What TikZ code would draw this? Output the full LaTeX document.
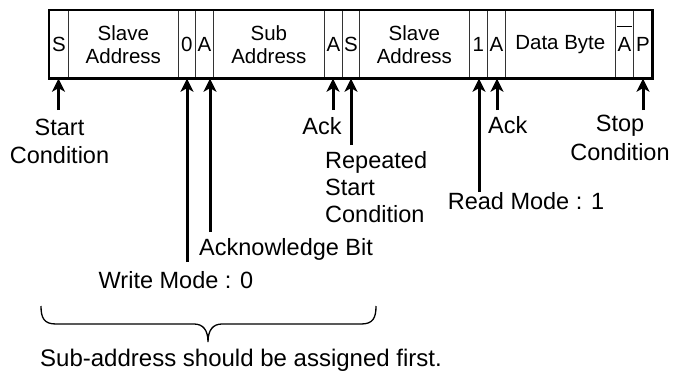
\documentclass[tikz,border=0pt]{standalone}
\usepackage{fontspec}
\setmainfont{Liberation Sans}
\usetikzlibrary{arrows.meta}
\begin{document}
\begin{tikzpicture}[x=1pt,y=-1pt,
  cell/.style={draw=black!80, line width=0.7pt, minimum height=68pt, inner sep=0pt,
    font=\fontsize{20.5}{23}\selectfont, align=center, anchor=north west},
  lbl/.style={font=\fontsize{23.5}{28}\selectfont, inner sep=0pt},
  pointer/.style={line width=3pt, -{Stealth[length=13pt,width=13pt,inset=3.5pt]}},
  frame/.style={line width=2.5pt},
  brace/.style={line width=1.3pt},
]
\useasboundingbox (0,0) rectangle (685,372);

% frame cells
\node[cell, minimum width=19pt]  (c1)  at (49,10)  {S};
\node[cell, minimum width=110pt] (c2)  at (68,10)  {Slave\\Address};
\node[cell, minimum width=17pt]  (c3)  at (178,10) {0};
\node[cell, minimum width=18pt]  (c4)  at (195,10) {A};
\node[cell, minimum width=111pt] (c5)  at (213,10) {Sub\\Address};
\node[cell, minimum width=18pt]  (c6)  at (324,10) {A};
\node[cell, minimum width=17pt]  (c7)  at (342,10) {S};
\node[cell, minimum width=110pt] (c8)  at (359,10) {Slave\\Address};
\node[cell, minimum width=18pt]  (c9)  at (469,10) {1};
\node[cell, minimum width=18pt]  (c10) at (487,10) {A};
\node[cell, minimum width=110pt] (c11) at (505,10) {Data Byte};
\node[cell, minimum width=18pt]  (c12) at (615,10) {A};
\node[cell, minimum width=19pt]  (c13) at (633,10) {P};
\draw[line width=0.7pt] ([xshift=1.5pt,yshift=-16pt]c12.north west) -- ([xshift=-2pt,yshift=-16pt]c12.north east);
\draw[frame] (c1.north west) rectangle (c13.south east);

% labels (base anchor of a multi-line node = baseline of its last line)
\node[lbl, anchor=base, align=center] (lstart) at (59.5,163.4) {Start\\Condition};
\node[lbl, anchor=base] (lack1) at (322,134.4) {Ack};
\node[lbl, anchor=base west, align=left, font=\fontsize{23.5}{27}\selectfont] (lrep) at (325,222.4) {Repeated\\Start\\Condition};
\node[lbl, anchor=base west] (lackbit) at (199,255.4) {Acknowledge Bit};
\node[lbl, anchor=base] (lwrite) at (176,288.4) {Write Mode : 0};
\node[lbl, anchor=base] (lread) at (526,209.4) {Read Mode : 1};
\node[lbl, anchor=base west] (lack2) at (488,133.4) {Ack};
\node[lbl, anchor=base, align=center, font=\fontsize{23.5}{29}\selectfont] (lstop) at (620,160.4) {Stop\\Condition};
\node[lbl, anchor=base, font=\fontsize{24}{28}\selectfont] (lfirst) at (241,366) {Sub-address should be assigned first.};

% arrow tails
\coordinate (t1) at (58.5,110);
\coordinate (t3) at (187,262);
\coordinate (t4) at (210,232);
\coordinate (t6) at (333,110);
\coordinate (t7) at (351,145);
\coordinate (t9) at (479,192);
\coordinate (t10) at (497,110);
\coordinate (t13) at (643,110);

\draw[pointer] (t1) -- (t1 |- c1.south);
\draw[pointer] (t3) -- (t3 |- c3.south);
\draw[pointer] (t4) -- (t4 |- c4.south);
\draw[pointer] (t6) -- (t6 |- c6.south);
\draw[pointer] (t7) -- (t7 |- c7.south);
\draw[pointer] (t9) -- (t9 |- c9.south);
\draw[pointer] (t10) -- (t10 |- c10.south);
\draw[pointer] (t13) -- (t13 |- c13.south);

% brace
\draw[brace] (41,306) .. controls (41,318) and (44,324) .. (56,324) -- (194,324)
  .. controls (203,324) and (208,330) .. (208,342)
  .. controls (208,330) and (213,324) .. (222,324) -- (361,324)
  .. controls (373,324) and (376,318) .. (376,306);
\end{tikzpicture}
\end{document}
